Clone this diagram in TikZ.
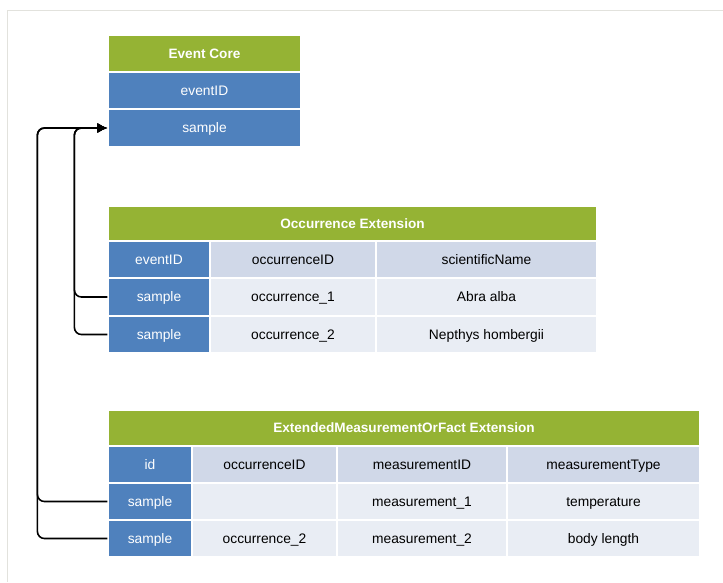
\documentclass[tikz,border=0pt]{standalone}
\usepackage{fontspec}
\setmainfont{Liberation Sans}
\usepackage{xcolor}
\usepackage{tikz}
\usetikzlibrary{arrows.meta}

\definecolor{hdgreen}{RGB}{149,179,52}
\definecolor{keyblue}{RGB}{79,129,189}
\definecolor{colgray}{RGB}{208,216,232}
\definecolor{rowgray}{RGB}{233,237,244}
\definecolor{framegray}{RGB}{226,226,221}

\tikzset{
cell/.style={draw=white, line width=1.2pt, inner sep=0pt, anchor=center, text height=12.5pt, text depth=3pt, font=\fontsize{13.8}{16}\selectfont},
title/.style={cell, fill=hdgreen, text=white, font=\fontsize{13.6}{16}\selectfont\bfseries},
keycell/.style={cell, fill=keyblue, text=white},
colcell/.style={cell, fill=colgray},
rowcell/.style={cell, fill=rowgray},
link/.style={line width=1.6pt, rounded corners=7pt, -{Latex[length=10pt,width=10pt]}}
}

\begin{document}
\begin{tikzpicture}[x=1pt,y=-1pt]

\useasboundingbox (0,0) rectangle (723,582);
\draw[framegray, line width=1pt] (7,582) -- (7,10) -- (723,10);

% Event Core
\node[title, minimum width=193pt, minimum height=37pt] (ev-t) at (204.5,53.5) {Event Core};
\node[keycell, minimum width=193pt, minimum height=37pt] (ev-id) at (204.5,90.5) {eventID};
\node[keycell, minimum width=193pt, minimum height=37pt] (ev-s) at (204.5,128) {sample};

% Occurrence Extension
\node[title, minimum width=489pt, minimum height=35pt] (occ-t) at (352.5,223.5) {Occurrence Extension};
\node[keycell, minimum width=102pt, minimum height=37pt] (occ-k0) at (159,259.5) {eventID};
\node[keycell, minimum width=102pt, minimum height=37pt] (occ-k1) at (159,297) {sample};
\node[keycell, minimum width=102pt, minimum height=37pt] (occ-k2) at (159,334.5) {sample};
\node[colcell, minimum width=166pt, minimum height=37pt] (occ-a0) at (293,259.5) {occurrenceID};
\node[rowcell, minimum width=166pt, minimum height=37pt] (occ-a1) at (293,297) {occurrence\_1};
\node[rowcell, minimum width=166pt, minimum height=37pt] (occ-a2) at (293,334.5) {occurrence\_2};
\node[colcell, minimum width=221pt, minimum height=37pt] (occ-b0) at (486.5,259.5) {scientificName};
\node[rowcell, minimum width=221pt, minimum height=37pt] (occ-b1) at (486.5,297) {Abra alba};
\node[rowcell, minimum width=221pt, minimum height=37pt] (occ-b2) at (486.5,334.5) {Nepthys hombergii};

% ExtendedMeasurementOrFact Extension
\node[title, minimum width=592pt, minimum height=36pt] (mof-t) at (404,428) {ExtendedMeasurementOrFact Extension};
\node[keycell, minimum width=84pt, minimum height=37pt] (mof-k0) at (150,464.5) {id};
\node[keycell, minimum width=84pt, minimum height=37pt] (mof-k1) at (150,501.5) {sample};
\node[keycell, minimum width=84pt, minimum height=37pt] (mof-k2) at (150,538.5) {sample};
\node[colcell, minimum width=145pt, minimum height=37pt] (mof-a0) at (264.5,464.5) {occurrenceID};
\node[rowcell, minimum width=145pt, minimum height=37pt] (mof-a1) at (264.5,501.5) {};
\node[rowcell, minimum width=145pt, minimum height=37pt] (mof-a2) at (264.5,538.5) {occurrence\_2};
\node[colcell, minimum width=170pt, minimum height=37pt] (mof-b0) at (422,464.5) {measurementID};
\node[rowcell, minimum width=170pt, minimum height=37pt] (mof-b1) at (422,501.5) {measurement\_1};
\node[rowcell, minimum width=170pt, minimum height=37pt] (mof-b2) at (422,538.5) {measurement\_2};
\node[colcell, minimum width=193pt, minimum height=37pt] (mof-c0) at (603.5,464.5) {measurementType};
\node[rowcell, minimum width=193pt, minimum height=37pt] (mof-c1) at (603.5,501.5) {temperature};
\node[rowcell, minimum width=193pt, minimum height=37pt] (mof-c2) at (603.5,538.5) {body length};

% links back to the core
\foreach \r in {1,2}{
\draw[link] (occ-k\r.west) -- ++(-33,0) |- (ev-s.west);
\draw[link] (mof-k\r.west) -- ++(-70,0) |- (ev-s.west);
}

\end{tikzpicture}
\end{document}
